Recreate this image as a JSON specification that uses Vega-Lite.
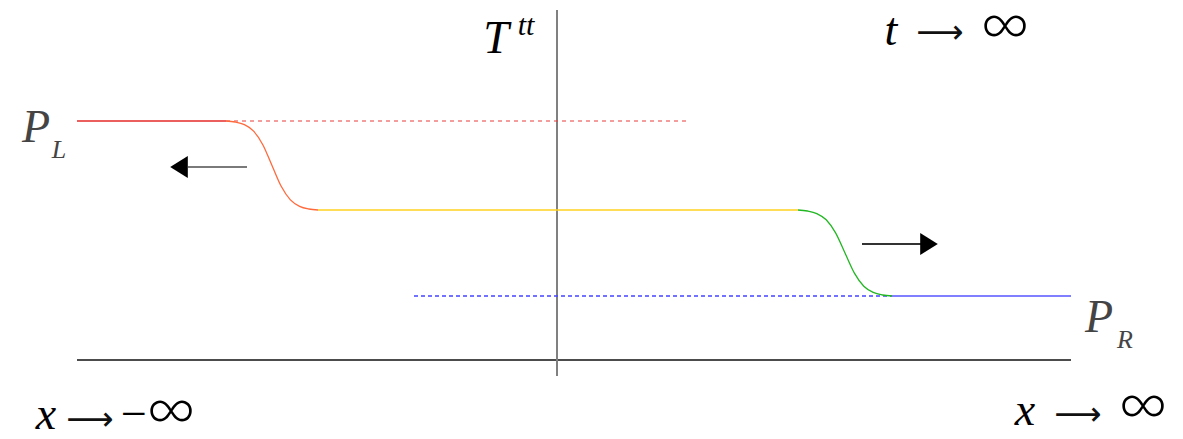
{
  "$schema": "https://vega.github.io/schema/vega-lite/v6.json",
  "autosize": {"type": "none"},
  "width": 1183,
  "height": 439,
  "padding": 0,
  "background": "white",
  "config": {"view": {"stroke": null}},
  "datasets": {
    "profile": [
      {"seg": "left", "x": -480, "y": 239},
      {"seg": "left", "x": -331, "y": 239},
      {"seg": "leftFront", "x": -331, "y": 239},
      {"seg": "leftFront", "x": -321.8, "y": 238.0},
      {"seg": "leftFront", "x": -312.6, "y": 235.3},
      {"seg": "leftFront", "x": -303.4, "y": 228.9},
      {"seg": "leftFront", "x": -294.2, "y": 215.3},
      {"seg": "leftFront", "x": -285, "y": 194.5},
      {"seg": "leftFront", "x": -275.8, "y": 173.7},
      {"seg": "leftFront", "x": -266.6, "y": 160.1},
      {"seg": "leftFront", "x": -257.4, "y": 153.7},
      {"seg": "leftFront", "x": -248.2, "y": 151.0},
      {"seg": "leftFront", "x": -239, "y": 150},
      {"seg": "middle", "x": -239, "y": 150},
      {"seg": "middle", "x": 241, "y": 150},
      {"seg": "rightFront", "x": 241, "y": 150},
      {"seg": "rightFront", "x": 250.4, "y": 149.0},
      {"seg": "rightFront", "x": 259.8, "y": 146.4},
      {"seg": "rightFront", "x": 269.2, "y": 140.2},
      {"seg": "rightFront", "x": 278.6, "y": 127.1},
      {"seg": "rightFront", "x": 288, "y": 107},
      {"seg": "rightFront", "x": 297.4, "y": 86.9},
      {"seg": "rightFront", "x": 306.8, "y": 73.8},
      {"seg": "rightFront", "x": 316.2, "y": 67.6},
      {"seg": "rightFront", "x": 325.6, "y": 65.0},
      {"seg": "rightFront", "x": 335, "y": 64},
      {"seg": "right", "x": 335, "y": 64},
      {"seg": "right", "x": 514, "y": 64}
    ],
    "levels": [
      {"level": "PL", "x": -331, "x2": 130, "y": 239},
      {"level": "PR", "x": -143, "x2": 335, "y": 64}
    ],
    "arrows": [
      {"dir": "left", "x": -369, "x2": -310, "y": 193, "hx": -378},
      {"dir": "right", "x": 305, "x2": 365, "y": 116, "hx": 372}
    ],
    "labels": [
      {"kind": "letter", "text": "T", "x": -61, "y": 307},
      {"kind": "sup", "text": "tt", "x": -31, "y": 325},
      {"kind": "letter", "text": "t", "x": 334, "y": 315},
      {"kind": "arrow", "text": "⟶", "x": 383, "y": 327},
      {"kind": "inf", "text": "∞", "x": 448, "y": 314},
      {"kind": "pletter", "text": "P", "x": -521, "y": 218},
      {"kind": "psub", "text": "L", "x": -498, "y": 202},
      {"kind": "pletter", "text": "P", "x": 542, "y": 28},
      {"kind": "psub", "text": "R", "x": 568, "y": 12},
      {"kind": "letter", "text": "x", "x": -511, "y": -69},
      {"kind": "arrow", "text": "⟶", "x": -467, "y": -60},
      {"kind": "minus", "text": "−", "x": -423, "y": -69},
      {"kind": "inf", "text": "∞", "x": -386, "y": -71},
      {"kind": "letter", "text": "x", "x": 468, "y": -65},
      {"kind": "arrow", "text": "⟶", "x": 521, "y": -55},
      {"kind": "inf", "text": "∞", "x": 586, "y": -66}
    ]
  },
  "encoding": {
    "x": {"type": "quantitative", "scale": {"domain": [-557, 626], "nice": false, "zero": false}, "axis": null},
    "y": {"type": "quantitative", "scale": {"domain": [-79, 360], "nice": false, "zero": false}, "axis": null}
  },
  "layer": [
    {
      "data": {"values": [{"x": -480, "x2": 514, "y": 0}]},
      "mark": {"type": "rule", "color": "#111111", "strokeWidth": 1.4},
      "encoding": {"x": {"field": "x", "type": "quantitative"}, "x2": {"field": "x2"}, "y": {"field": "y", "type": "quantitative"}}
    },
    {
      "data": {"values": [{"x": 0, "y": 350, "y2": -16}]},
      "mark": {"type": "rule", "color": "#808080", "strokeWidth": 2},
      "encoding": {"x": {"field": "x", "type": "quantitative"}, "y": {"field": "y", "type": "quantitative"}, "y2": {"field": "y2"}}
    },
    {
      "data": {"name": "levels"},
      "transform": [{"filter": "datum.level === 'PL'"}],
      "mark": {"type": "rule", "strokeWidth": 1.2, "strokeDash": [4, 4], "color": "#e83c3c"},
      "encoding": {"x": {"field": "x", "type": "quantitative"}, "x2": {"field": "x2"}, "y": {"field": "y", "type": "quantitative"}}
    },
    {
      "data": {"name": "levels"},
      "transform": [{"filter": "datum.level === 'PR'"}],
      "mark": {"type": "rule", "strokeWidth": 1.3, "strokeDash": [4, 3], "color": "#4444ff"},
      "encoding": {"x": {"field": "x", "type": "quantitative"}, "x2": {"field": "x2"}, "y": {"field": "y", "type": "quantitative"}}
    },
    {
      "data": {"name": "profile"},
      "mark": {"type": "line", "strokeWidth": 1.3, "interpolate": "monotone"},
      "encoding": {
        "x": {"field": "x", "type": "quantitative"},
        "y": {"field": "y", "type": "quantitative"},
        "detail": {"field": "seg", "type": "nominal"},
        "color": {"field": "seg", "type": "nominal", "scale": {"domain": ["left", "leftFront", "middle", "rightFront", "right"], "range": ["#e42a2a", "#ff6a3d", "#ffd21f", "#22b622", "#5555ff"]}, "legend": null}
      }
    },
    {
      "data": {"name": "arrows"},
      "transform": [{"filter": "datum.dir === 'left'"}],
      "mark": {"type": "rule", "strokeWidth": 2, "color": "#7a7a7a"},
      "encoding": {"x": {"field": "x", "type": "quantitative"}, "x2": {"field": "x2"}, "y": {"field": "y", "type": "quantitative"}}
    },
    {
      "data": {"name": "arrows"},
      "transform": [{"filter": "datum.dir === 'right'"}],
      "mark": {"type": "rule", "strokeWidth": 2, "color": "#333333"},
      "encoding": {"x": {"field": "x", "type": "quantitative"}, "x2": {"field": "x2"}, "y": {"field": "y", "type": "quantitative"}}
    },
    {
      "data": {"name": "arrows"},
      "transform": [{"filter": "datum.dir === 'left'"}],
      "mark": {"type": "point", "shape": "M -0.8 0 L 0.8 -1 L 0.8 1 Z", "filled": true, "color": "black", "opacity": 1, "size": 484},
      "encoding": {"x": {"field": "hx", "type": "quantitative"}, "y": {"field": "y", "type": "quantitative"}}
    },
    {
      "data": {"name": "arrows"},
      "transform": [{"filter": "datum.dir === 'right'"}],
      "mark": {"type": "point", "shape": "M 0.8 0 L -0.8 -1 L -0.8 1 Z", "filled": true, "color": "black", "opacity": 1, "size": 484},
      "encoding": {"x": {"field": "hx", "type": "quantitative"}, "y": {"field": "y", "type": "quantitative"}}
    },
    {
      "data": {"name": "labels"},
      "transform": [{"filter": "datum.kind === 'letter'"}],
      "mark": {"type": "text", "font": "Liberation Serif", "fontStyle": "italic", "fontSize": 46, "align": "center", "baseline": "alphabetic", "color": "black"},
      "encoding": {"x": {"field": "x", "type": "quantitative"}, "y": {"field": "y", "type": "quantitative"}, "text": {"field": "text"}}
    },
    {
      "data": {"name": "labels"},
      "transform": [{"filter": "datum.kind === 'sup'"}],
      "mark": {"type": "text", "font": "Liberation Serif", "fontStyle": "italic", "fontSize": 30, "align": "center", "baseline": "alphabetic", "color": "black"},
      "encoding": {"x": {"field": "x", "type": "quantitative"}, "y": {"field": "y", "type": "quantitative"}, "text": {"field": "text"}}
    },
    {
      "data": {"name": "labels"},
      "transform": [{"filter": "datum.kind === 'arrow'"}],
      "mark": {"type": "text", "font": "DejaVu Sans", "fontSize": 33, "align": "center", "baseline": "middle", "color": "#111111"},
      "encoding": {"x": {"field": "x", "type": "quantitative"}, "y": {"field": "y", "type": "quantitative"}, "text": {"field": "text"}}
    },
    {
      "data": {"name": "labels"},
      "transform": [{"filter": "datum.kind === 'minus'"}],
      "mark": {"type": "text", "font": "Liberation Serif", "fontSize": 46, "align": "center", "baseline": "alphabetic", "color": "black"},
      "encoding": {"x": {"field": "x", "type": "quantitative"}, "y": {"field": "y", "type": "quantitative"}, "text": {"field": "text"}}
    },
    {
      "data": {"name": "labels"},
      "transform": [{"filter": "datum.kind === 'inf'"}],
      "mark": {"type": "text", "font": "Lato", "fontWeight": 300, "fontSize": 68, "align": "center", "baseline": "alphabetic", "color": "black"},
      "encoding": {"x": {"field": "x", "type": "quantitative"}, "y": {"field": "y", "type": "quantitative"}, "text": {"field": "text"}}
    },
    {
      "data": {"name": "labels"},
      "transform": [{"filter": "datum.kind === 'pletter'"}],
      "mark": {"type": "text", "font": "Liberation Serif", "fontStyle": "italic", "fontSize": 46, "align": "center", "baseline": "alphabetic", "color": "#444444"},
      "encoding": {"x": {"field": "x", "type": "quantitative"}, "y": {"field": "y", "type": "quantitative"}, "text": {"field": "text"}}
    },
    {
      "data": {"name": "labels"},
      "transform": [{"filter": "datum.kind === 'psub'"}],
      "mark": {"type": "text", "font": "Liberation Serif", "fontStyle": "italic", "fontSize": 26, "align": "center", "baseline": "alphabetic", "color": "#444444"},
      "encoding": {"x": {"field": "x", "type": "quantitative"}, "y": {"field": "y", "type": "quantitative"}, "text": {"field": "text"}}
    }
  ]
}
